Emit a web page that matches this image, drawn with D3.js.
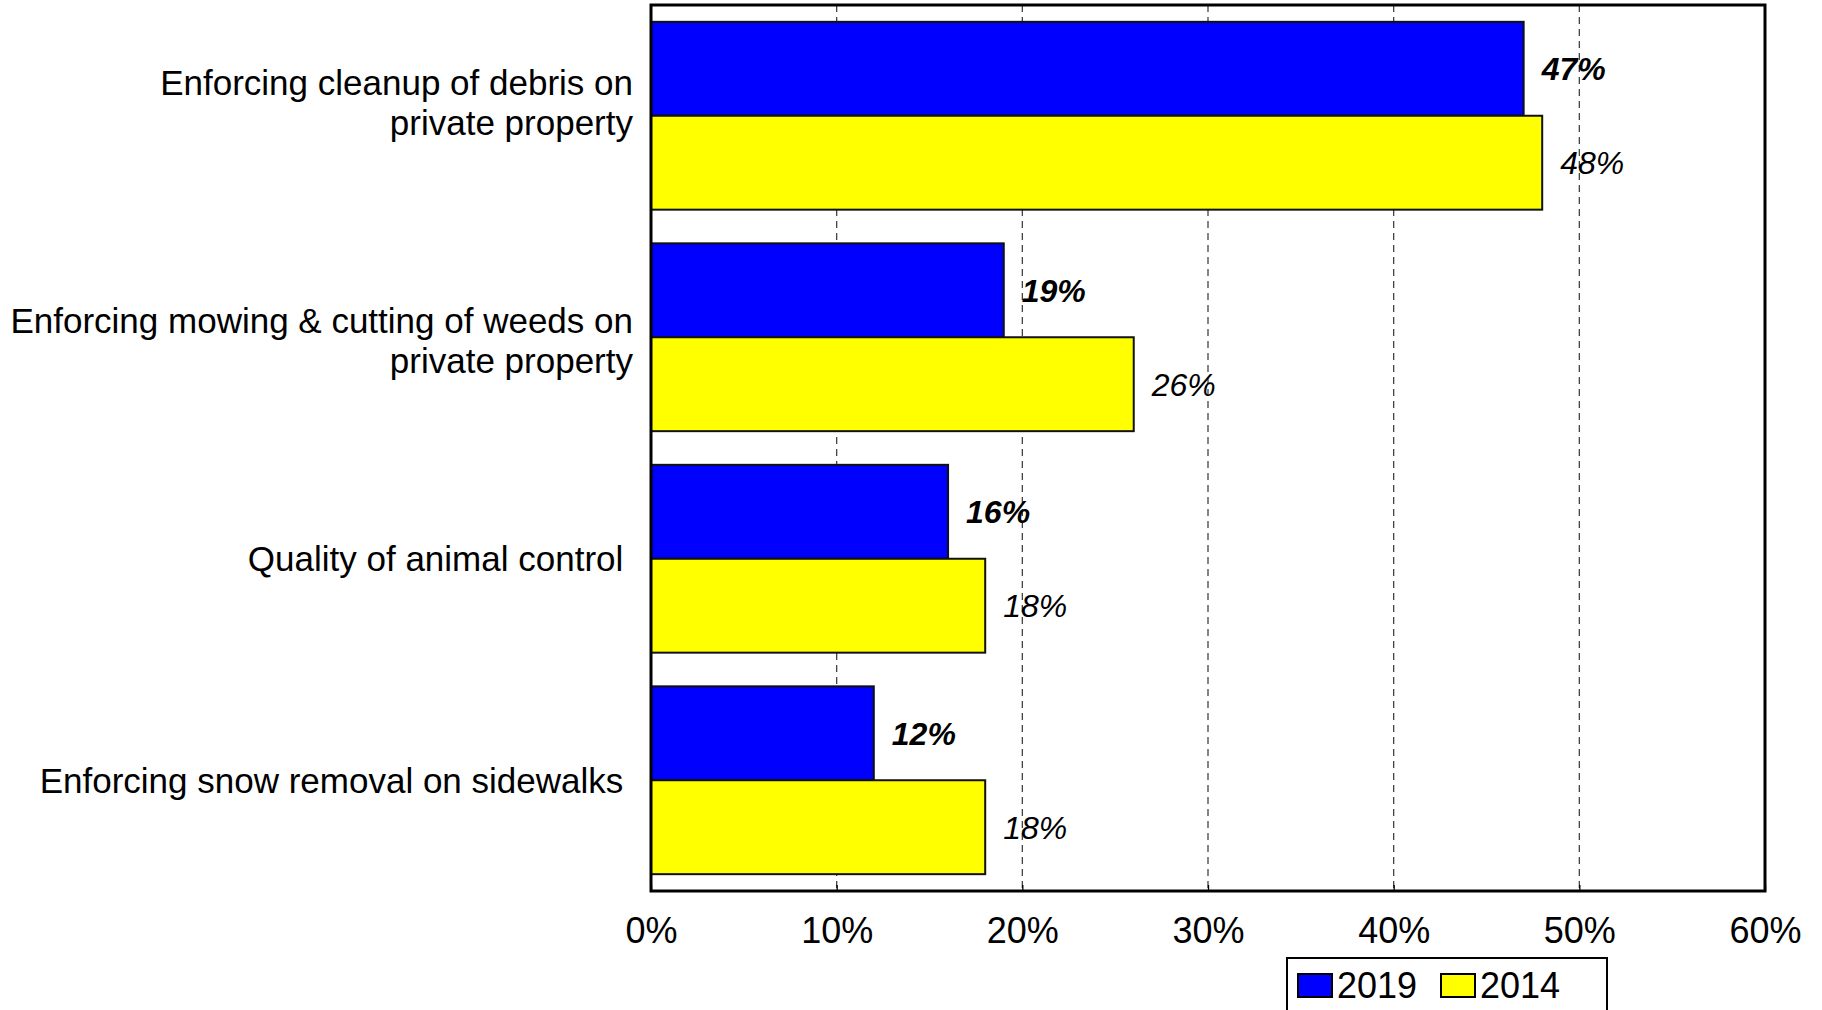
<!DOCTYPE html>
<html>
<head>
<meta charset="utf-8">
<script src="https://cdn.jsdelivr.net/npm/d3@7"></script>
<style>
  html, body { margin: 0; padding: 0; background: #fff; }
  svg { display: block; font-family: "Liberation Sans", Arial, Helvetica, sans-serif; }
  text { white-space: pre; }
</style>
</head>
<body>
<svg id="chart" width="1822" height="1010"></svg>
<script>
// Category labels (each entry is a list of lines)
const categories = [
  ["Enforcing cleanup of debris on", "private property"],
  ["Enforcing mowing & cutting of weeds on", "private property"],
  ["Quality of animal control "],
  ["Enforcing snow removal on sidewalks "]
];
const seriesNames = ["2019", "2014"];
const values2019 = [47, 19, 16, 12];
const values2014 = [48, 26, 18, 18];
const seriesColors = ["#0000ff", "#ffff00"];
const tickValues = [0, 10, 20, 30, 40, 50, 60];
const tickLabels = ["0%", "10%", "20%", "30%", "40%", "50%", "60%"];

const W = 1822, H = 1010;
const plot = { left: 651, right: 1765, top: 5, bottom: 891 };

const svg = d3.select("#chart");

const x = d3.scaleLinear().domain([0, 60]).range([plot.left, plot.right]);
const catIndex = categories.map((d, i) => i);
const y = d3.scaleBand().domain(catIndex).range([plot.top, plot.bottom])
  .paddingInner(0.152).paddingOuter(0.076);
const ySub = d3.scaleBand().domain(seriesNames).range([0, y.bandwidth()]);

const series = [values2019, values2014];

// dashed vertical gridlines behind the bars
svg.append("g")
  .selectAll("line")
  .data(tickValues.slice(1, -1))
  .join("line")
  .attr("x1", d => x(d)).attr("x2", d => x(d))
  .attr("y1", plot.top).attr("y2", plot.bottom)
  .attr("stroke", "#444")
  .attr("stroke-width", 1.3)
  .attr("stroke-dasharray", "7,5");

// bars
const groups = svg.append("g")
  .selectAll("g")
  .data(catIndex)
  .join("g")
  .attr("transform", i => `translate(0,${y(i)})`);

groups.selectAll("rect")
  .data(i => seriesNames.map((s, k) => ({ s, k, v: series[k][i] })))
  .join("rect")
  .attr("x", x(0))
  .attr("y", d => ySub(d.s))
  .attr("width", d => x(d.v) - x(0))
  .attr("height", ySub.bandwidth())
  .attr("fill", d => seriesColors[d.k])
  .attr("stroke", "#111")
  .attr("stroke-width", 2);

// value labels: bold italic for 2019, italic for 2014
groups.selectAll("text.val")
  .data(i => seriesNames.map((s, k) => ({ s, k, v: series[k][i] })))
  .join("text")
  .attr("class", "val")
  .attr("x", d => x(d.v) + 18)
  .attr("y", d => ySub(d.s) + ySub.bandwidth() / 2)
  .attr("dy", "0.36em")
  .attr("font-size", 32)
  .attr("font-style", "italic")
  .attr("font-weight", d => d.k === 0 ? "bold" : "normal")
  .attr("fill", "#000")
  .text(d => d.v + "%");

// category labels, right aligned left of the plot
const lineH = 40;
// small vertical adjustments for the wrapped label blocks
const labelShift = i => (i === 0 ? -13 : i === 1 ? 3.5 : 0);
svg.append("g")
  .selectAll("text")
  .data(catIndex)
  .join("text")
  .attr("text-anchor", "end")
  .attr("font-size", 35)
  .attr("fill", "#000")
  .each(function (i) {
    const lines = categories[i];
    const cy = y(i) + y.bandwidth() / 2 + labelShift(i);
    const first = cy - (lines.length - 1) * lineH / 2 + 12.5;
    d3.select(this).selectAll("tspan")
      .data(lines)
      .join("tspan")
      .attr("x", 633)
      .attr("y", (d, j) => first + j * lineH)
      .text(d => d);
  });

// plot frame
svg.append("rect")
  .attr("x", plot.left).attr("y", plot.top)
  .attr("width", plot.right - plot.left)
  .attr("height", plot.bottom - plot.top)
  .attr("fill", "none")
  .attr("stroke", "#000")
  .attr("stroke-width", 3);

// x axis: inward ticks and percentage labels
const xAxis = d3.axisBottom(x)
  .tickValues(tickValues)
  .tickFormat((d, i) => tickLabels[i])
  .tickSizeInner(-6)
  .tickSizeOuter(0)
  .tickPadding(44);
const ax = svg.append("g")
  .attr("transform", `translate(0,${plot.bottom})`)
  .call(xAxis);
ax.select(".domain").remove();
ax.selectAll(".tick line").attr("stroke", "#000").attr("stroke-width", 1.3);
ax.selectAll(".tick text")
  .attr("font-family", "'Liberation Sans', Arial, sans-serif")
  .attr("font-size", 36)
  .attr("fill", "#000")
  .attr("dy", null)
  .attr("y", 52);

// legend
const legend = svg.append("g");
legend.append("rect")
  .attr("x", 1287).attr("y", 958)
  .attr("width", 320).attr("height", 80)
  .attr("fill", "#fff")
  .attr("stroke", "#000")
  .attr("stroke-width", 2);
const legendItems = legend.selectAll("g")
  .data(seriesNames)
  .join("g")
  .attr("transform", (d, k) => `translate(${1298 + k * 143},0)`);
legendItems.append("rect")
  .attr("x", 0).attr("y", 974)
  .attr("width", 34).attr("height", 23)
  .attr("fill", (d, k) => seriesColors[k])
  .attr("stroke", "#000")
  .attr("stroke-width", 2);
legendItems.append("text")
  .attr("x", 39).attr("y", 998)
  .attr("font-size", 36)
  .attr("fill", "#000")
  .text(d => d);
</script>
</body>
</html>
